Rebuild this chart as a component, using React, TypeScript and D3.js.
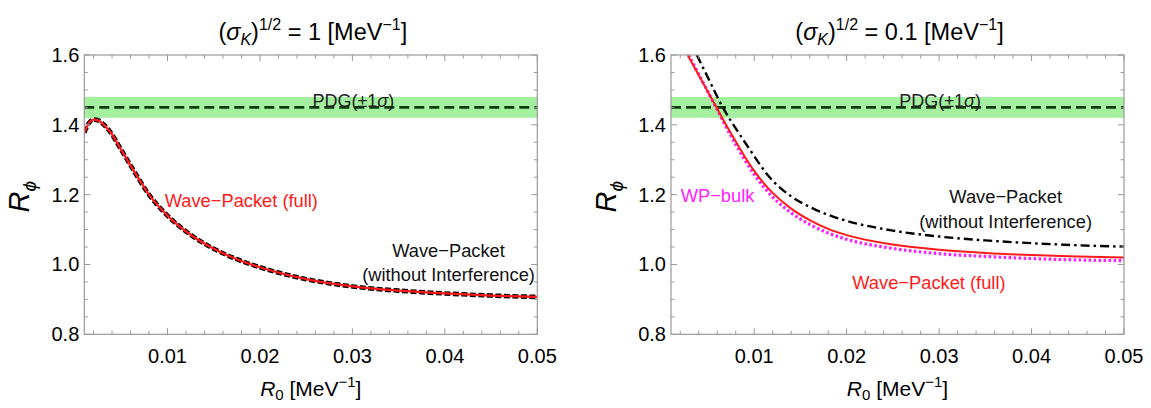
import React from "react";
import * as d3 from "d3";

// ---------- data ----------
const xTicks = [0.01, 0.02, 0.03, 0.04, 0.05];
const yTicks = [0.8, 1.0, 1.2, 1.4, 1.6];
const pdgCenter = 1.45;
const pdgSigma = 0.03;

// left panel (sigma_K^(1/2) = 1)
const leftR0 = [0.001, 0.0015, 0.002, 0.0025, 0.003, 0.0038, 0.005, 0.0065, 0.008, 0.01, 0.0125, 0.015, 0.0175, 0.02, 0.025, 0.03, 0.035, 0.04, 0.045, 0.05];
const leftFull = [1.378, 1.405, 1.415, 1.413, 1.403, 1.38, 1.328, 1.262, 1.2, 1.14, 1.085, 1.045, 1.015, 0.992, 0.958, 0.937, 0.925, 0.917, 0.911, 0.907];
const leftNoInt = [1.378, 1.405, 1.415, 1.413, 1.403, 1.38, 1.328, 1.262, 1.2, 1.14, 1.085, 1.045, 1.015, 0.992, 0.958, 0.937, 0.925, 0.917, 0.911, 0.907];

// right panel (sigma_K^(1/2) = 0.1)
const rightR0Full = [0.0028, 0.004, 0.005, 0.006, 0.007, 0.008, 0.009, 0.01, 0.011, 0.012, 0.014, 0.016, 0.018, 0.02, 0.025, 0.03, 0.035, 0.04, 0.045, 0.05];
const rightFull = [1.6, 1.542, 1.494, 1.446, 1.398, 1.352, 1.308, 1.268, 1.234, 1.205, 1.16, 1.127, 1.102, 1.084, 1.057, 1.042, 1.033, 1.027, 1.023, 1.02];
const rightR0Bulk = [0.0029, 0.004, 0.005, 0.006, 0.007, 0.008, 0.009, 0.01, 0.011, 0.012, 0.014, 0.016, 0.018, 0.02, 0.025, 0.03, 0.035, 0.04, 0.045, 0.05];
const rightBulk = [1.6, 1.545, 1.494, 1.443, 1.392, 1.344, 1.299, 1.258, 1.223, 1.193, 1.148, 1.115, 1.09, 1.072, 1.046, 1.031, 1.023, 1.017, 1.013, 1.011];
const rightR0NoInt = [0.0038, 0.005, 0.0066, 0.008, 0.0095, 0.0115, 0.014, 0.016, 0.018, 0.02, 0.025, 0.03, 0.035, 0.04, 0.045, 0.05];
const rightNoInt = [1.6, 1.535, 1.45, 1.39, 1.33, 1.255, 1.195, 1.165, 1.142, 1.125, 1.097, 1.08, 1.069, 1.061, 1.055, 1.051];

const FONT = "Arial, 'Liberation Sans', Helvetica, sans-serif";

type Series = { xs: number[]; ys: number[]; color: string; width: number; dash?: string };

function Panel(props: {
  x0: number;
  x1: number;
  title: string;
  series: Series[];
  labels: React.ReactNode;
  id: string;
}) {
  const { x0, x1, title, series, labels, id } = props;
  const yTop = 55;
  const yBot = 334.3;
  const x = d3.scaleLinear().domain([0.001, 0.05]).range([x0, x1]);
  const y = d3.scaleLinear().domain([0.8, 1.6]).range([yBot, yTop]);
  const line = d3
    .line<[number, number]>()
    .x((d) => x(d[0]))
    .y((d) => y(d[1]))
    .curve(d3.curveMonotoneX);

  const minorX = d3.range(0.002, 0.0501, 0.002).filter((v) => Math.abs(v * 100 - Math.round(v * 100)) > 1e-6);
  const minorY = d3.range(0.85, 1.6, 0.05).filter((v) => Math.abs(v * 5 - Math.round(v * 5)) > 1e-6);
  const tickCol = "#999";
  const cx = (x0 + x1) / 2;

  return (
    <g>
      <defs>
        <clipPath id={id}>
          <rect x={x0} y={yTop} width={x1 - x0} height={yBot - yTop} />
        </clipPath>
      </defs>
      {/* PDG band */}
      <rect
        x={x0}
        y={y(pdgCenter + pdgSigma)}
        width={x1 - x0}
        height={y(pdgCenter - pdgSigma) - y(pdgCenter + pdgSigma)}
        fill="#a4f0a0"
      />
      <line x1={x0} x2={x1} y1={y(pdgCenter)} y2={y(pdgCenter)} stroke="#0b3d0b" strokeWidth={2.6} strokeDasharray="10,5" />
      <text x={x(0.0301)} y={y(pdgCenter) - 0.5} fontFamily={FONT} fontSize={18} fill="#222" textAnchor="middle">
        PDG(±1<tspan fontStyle="italic">σ</tspan>)
      </text>

      {/* series */}
      <g clipPath={`url(#${id})`}>
        {series.map((s, i) => (
          <path
            key={i}
            d={line(s.xs.map((v, j) => [v, s.ys[j]] as [number, number])) || ""}
            fill="none"
            stroke={s.color}
            strokeWidth={s.width}
            strokeDasharray={s.dash}
          />
        ))}
      </g>

      {/* frame */}
      <rect x={x0} y={yTop} width={x1 - x0} height={yBot - yTop} fill="none" stroke={tickCol} strokeWidth={1.2} />
      {xTicks.map((t) => (
        <g key={"xt" + t}>
          <line x1={x(t)} x2={x(t)} y1={yBot} y2={yBot - 6} stroke={tickCol} />
          <line x1={x(t)} x2={x(t)} y1={yTop} y2={yTop + 6} stroke={tickCol} />
          <text x={x(t)} y={yBot + 29} fontFamily={FONT} fontSize={20} textAnchor="middle" fill="#000">
            {t.toFixed(2)}
          </text>
        </g>
      ))}
      {minorX.map((t) => (
        <g key={"xm" + t}>
          <line x1={x(t)} x2={x(t)} y1={yBot} y2={yBot - 3.5} stroke={tickCol} />
          <line x1={x(t)} x2={x(t)} y1={yTop} y2={yTop + 3.5} stroke={tickCol} />
        </g>
      ))}
      {yTicks.map((t) => (
        <g key={"yt" + t}>
          <line x1={x0} x2={x0 + 6} y1={y(t)} y2={y(t)} stroke={tickCol} />
          <line x1={x1} x2={x1 - 6} y1={y(t)} y2={y(t)} stroke={tickCol} />
          <text x={x0 - 5} y={y(t) + 7} fontFamily={FONT} fontSize={20} textAnchor="end" fill="#000">
            {t.toFixed(1)}
          </text>
        </g>
      ))}
      {minorY.map((t) => (
        <g key={"ym" + t}>
          <line x1={x0} x2={x0 + 3.5} y1={y(t)} y2={y(t)} stroke={tickCol} />
          <line x1={x1} x2={x1 - 3.5} y1={y(t)} y2={y(t)} stroke={tickCol} />
        </g>
      ))}

      {/* title */}
      <text x={cx + 2} y={40} fontFamily={FONT} fontSize={23.5} textAnchor="middle" fill="#000">
        (<tspan fontStyle="italic">σ</tspan>
        <tspan fontStyle="italic" fontSize={16} dy={5}>K</tspan>
        <tspan dy={-5}>)</tspan>
        <tspan fontSize={16} dy={-10}>1/2</tspan>
        <tspan dy={10}>{" = " + title + " [MeV"}</tspan>
        <tspan fontSize={16} dy={-10}>−1</tspan>
        <tspan dy={10}>]</tspan>
      </text>

      {/* axis labels */}
      <text x={cx} y={396} fontFamily={FONT} fontSize={21} textAnchor="middle" fill="#000">
        <tspan fontStyle="italic">R</tspan>
        <tspan fontSize={15} dy={4}>0</tspan>
        <tspan dy={-4}>{"  [MeV"}</tspan>
        <tspan fontSize={15} dy={-9}>−1</tspan>
        <tspan dy={9}>]</tspan>
      </text>
      <text
        transform={`translate(${x0 - 55},${(yTop + yBot) / 2 + 2}) rotate(-90)`}
        fontFamily={FONT}
        fontSize={29}
        textAnchor="middle"
        fill="#000"
      >
        <tspan fontStyle="italic">R</tspan>
        <tspan fontStyle="italic" fontSize={19} dy={7}>ϕ</tspan>
      </text>
      {labels}
    </g>
  );
}

export default function App() {
  const lx0 = 84.3,
    lx1 = 537.3,
    rx0 = 671,
    rx1 = 1124;
  const lX = d3.scaleLinear().domain([0.001, 0.05]).range([lx0, lx1]);
  const rX = d3.scaleLinear().domain([0.001, 0.05]).range([rx0, rx1]);
  const yS = d3.scaleLinear().domain([0.8, 1.6]).range([334.3, 55]);
  const fs = 18.3;
  return (
    <svg
      width={1151}
      height={408}
      style={{ position: "absolute", left: 0, top: 0, background: "#fff" }}
    >
      <rect width={1151} height={408} fill="#fff" />
      <Panel
        id="clipL"
        x0={lx0}
        x1={lx1}
        title="1"
        series={[
          { xs: leftR0, ys: leftNoInt, color: "#000", width: 4.6, dash: "6,2.5" },
          { xs: leftR0, ys: leftFull, color: "#ff1a1a", width: 2.3 },
        ]}
        labels={
          <g fontFamily={FONT} fontSize={fs}>
            <text x={lX(0.0097)} y={yS(1.165)} fill="#ff1a1a">Wave−Packet (full)</text>
            <text x={lX(0.0404)} y={yS(1.022)} textAnchor="middle" fill="#111">Wave−Packet</text>
            <text x={lX(0.0404)} y={yS(0.952)} textAnchor="middle" fill="#111">(without Interference)</text>
          </g>
        }
      />
      <Panel
        id="clipR"
        x0={rx0}
        x1={rx1}
        title="0.1"
        series={[
          { xs: rightR0NoInt, ys: rightNoInt, color: "#000", width: 2.4, dash: "9,4,2.5,4" },
          { xs: rightR0Bulk, ys: rightBulk, color: "#ff1aff", width: 3.2, dash: "2.5,2.5" },
          { xs: rightR0Full, ys: rightFull, color: "#ff1a1a", width: 2 },
        ]}
        labels={
          <g fontFamily={FONT} fontSize={fs}>
            <text x={rX(0.00205)} y={yS(1.18)} fill="#ff22ff">WP−bulk</text>
            <text x={rX(0.0372)} y={yS(1.177)} textAnchor="middle" fill="#111">Wave−Packet</text>
            <text x={rX(0.0372)} y={yS(1.105)} textAnchor="middle" fill="#111">(without Interference)</text>
            <text x={rX(0.0289)} y={yS(0.93)} textAnchor="middle" fill="#ff1a1a">Wave−Packet (full)</text>
          </g>
        }
      />
    </svg>
  );
}
